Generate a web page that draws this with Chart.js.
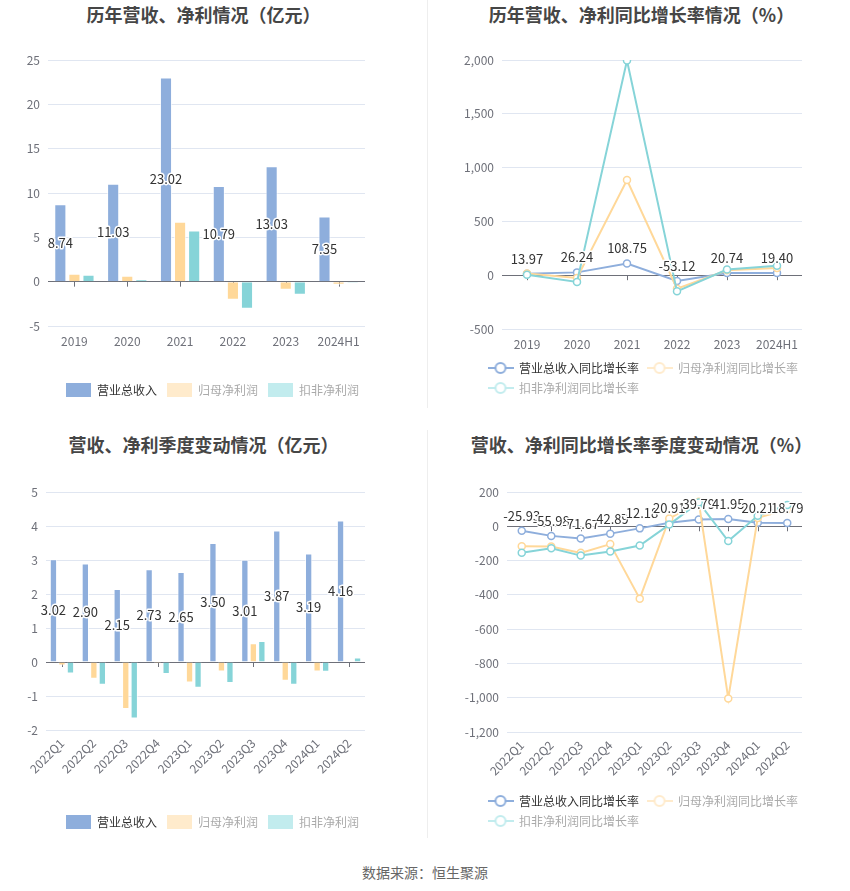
<!DOCTYPE html>
<html>
<head>
<meta charset="utf-8">
<script src="https://cdn.jsdelivr.net/npm/chart.js@4.4.1/dist/chart.umd.min.js"></script>
<style>
body { margin: 0; background: #fff; width: 850px; height: 891px; position: relative; overflow: hidden; font-family: "Noto Sans CJK SC", sans-serif; }
.title { position: absolute; width: 425px; text-align: center; font-size: 18px; font-weight: bold; color: #464646; line-height: 20px; }
.box { position: absolute; width: 425px; height: 380px; }
.vline { position: absolute; left: 427px; width: 1px; background: #eeeeee; }
#src { position: absolute; top: 863px; left: 0; width: 850px; text-align: center; font-size: 14px; color: #666; line-height: 18px; }
</style>
</head>
<body>
<div class="vline" style="top:0;height:408px"></div>
<div class="vline" style="top:430px;height:408px"></div>

<div class="title" style="left:-9px;top:4px">历年营收、净利情况（亿元）</div>
<div class="title" style="left:429px;top:4px">历年营收、净利同比增长率情况（%）</div>
<div class="title" style="left:-9px;top:434px">营收、净利季度变动情况（亿元）</div>
<div class="title" style="left:429px;top:434px">营收、净利同比增长率季度变动情况（%）</div>

<div class="box" style="left:0;top:40px"><canvas id="c1" width="425" height="380"></canvas></div>
<div class="box" style="left:425px;top:40px"><canvas id="c2" width="425" height="380"></canvas></div>
<div class="box" style="left:0;top:470px"><canvas id="c3" width="425" height="380"></canvas></div>
<div class="box" style="left:425px;top:470px"><canvas id="c4" width="425" height="380"></canvas></div>

<div id="src">数据来源：恒生聚源</div>

<script>
// data
const yearLabels = ["2019", "2020", "2021", "2022", "2023", "2024H1"];
const yearRevenue = [8.74, 11.03, 23.02, 10.79, 13.03, 7.35];
const yearNetProfit = [0.9, 0.68, 6.76, -2.03, -0.9, -0.34];
const yearDeductedProfit = [0.79, 0.26, 5.78, -3.05, -1.47, -0.15];

const yearRevenueGrowth = [13.97, 26.24, 108.75, -53.12, 20.74, 19.40];
const yearNetProfitGrowth = [15, -25, 884, -125, 45, 68];
const yearDeductedGrowth = [5, -63, 1995, -150, 53, 87];

const quarterLabels = ["2022Q1", "2022Q2", "2022Q3", "2022Q4", "2023Q1", "2023Q2", "2023Q3", "2023Q4", "2024Q1", "2024Q2"];
const quarterRevenue = [3.02, 2.90, 2.15, 2.73, 2.65, 3.50, 3.01, 3.87, 3.19, 4.16];
const quarterNetProfit = [-0.1, -0.49, -1.38, -0.04, -0.6, -0.28, 0.55, -0.55, -0.28, 0.01];
const quarterDeductedProfit = [-0.34, -0.67, -1.66, -0.35, -0.76, -0.62, 0.62, -0.67, -0.29, 0.13];

const quarterRevenueGrowth = [-25.93, -55.98, -71.67, -42.89, -12.18, 20.91, 39.79, 41.95, 20.21, 18.79];
const quarterNetProfitGrowth = [-116, -118, -155, -104, -422, 45, 143, -1004, 49, 98];
const quarterDeductedGrowth = [-155, -128, -171, -147, -112, 10, 139, -86, 61, 124];

const barNames = ["营业总收入", "归母净利润", "扣非净利润"];
const lineNames = ["营业总收入同比增长率", "归母净利润同比增长率", "扣非净利润同比增长率"];

const colors = ["#8EAEDC", "#FFD899", "#86D4D8"];
const fadedColors = ["#8EAEDC", "#FFEBCC", "#C2ECEE"];
const legendText = ["#333333", "#aaaaaa", "#aaaaaa"];

Chart.defaults.font.family = '"Noto Sans CJK SC", "Noto Sans", sans-serif';
Chart.defaults.font.size = 12;
Chart.defaults.color = "#6E7079";

// line + hollow circle legend icon
function lineIcon(color) {
    const c = document.createElement("canvas");
    c.width = 26;
    c.height = 14;
    const g = c.getContext("2d");
    g.strokeStyle = color;
    g.lineWidth = 2;
    g.beginPath();
    g.moveTo(0, 7);
    g.lineTo(26, 7);
    g.stroke();
    g.fillStyle = "#fff";
    g.beginPath();
    g.arc(13, 7, 5, 0, Math.PI * 2);
    g.fill();
    g.stroke();
    return c;
}

// value labels for the first series
const valueLabels = {
    id: "valueLabels",
    afterDatasetsDraw(chart) {
        const meta = chart.getDatasetMeta(0);
        const values = chart.data.datasets[0].data;
        const ctx = chart.ctx;
        ctx.save();
        ctx.font = '13px "Noto Sans CJK SC", sans-serif';
        ctx.textAlign = "center";
        ctx.textBaseline = "middle";
        ctx.lineJoin = "round";
        ctx.lineWidth = 3;
        ctx.strokeStyle = "#fff";
        ctx.fillStyle = "#333";
        meta.data.forEach((el, i) => {
            const txt = values[i].toFixed(2);
            const y = meta.type === "bar" ? (el.y + el.base) / 2 : el.y - 15;
            ctx.strokeText(txt, el.x, y);
            ctx.fillText(txt, el.x, y);
        });
        ctx.restore();
    }
};

// small ticks under the zero line
const zeroTicks = {
    id: "zeroTicks",
    beforeDatasetsDraw(chart) {
        const xs = chart.scales.x;
        const y0 = chart.scales.y.getPixelForValue(0);
        const ctx = chart.ctx;
        ctx.save();
        ctx.strokeStyle = "#6E7079";
        ctx.lineWidth = 1;
        chart.data.labels.forEach((l, i) => {
            const x = Math.round(xs.getPixelForValue(i)) + 0.5;
            ctx.beginPath();
            ctx.moveTo(x, y0);
            ctx.lineTo(x, y0 + 5);
            ctx.stroke();
        });
        ctx.restore();
    }
};

// line legends: rows start at the same left edge
const legendShift = {
    id: "legendShift",
    afterLayout(chart) {
        if (chart.config.type === "line") chart.legend.left = 55;
    }
};

function legendOptions(isLine, padding) {
    return {
        position: "bottom",
        align: isLine ? "start" : "center",
        onClick: () => {},
        labels: {
            padding: padding,
            boxWidth: 25,
            boxHeight: 14,
            useBorderRadius: true,
            borderRadius: 3,
            usePointStyle: isLine,
            pointStyleWidth: isLine ? 25 : undefined,
            font: { size: 12 },
            generateLabels(chart) {
                return chart.data.datasets.map((ds, i) => ({
                    text: ds.label,
                    datasetIndex: i,
                    fillStyle: fadedColors[i],
                    strokeStyle: fadedColors[i],
                    lineWidth: 0,
                    fontColor: legendText[i],
                    pointStyle: isLine ? lineIcon(i === 0 ? colors[0] : fadedColors[i]) : undefined,
                    hidden: false
                }));
            }
        }
    };
}

function scalesFor(cfg) {
    return {
        x: {
            offset: true,
            grid: { display: false, drawTicks: false },
            border: { display: false },
            ticks: {
                padding: cfg.xPad || 8,
                autoSkip: false,
                maxRotation: cfg.rotate || 0,
                minRotation: cfg.rotate || 0,
                color: "#6E7079"
            },
            afterFit: s => { s.height = cfg.xHeight; }
        },
        y: {
            min: cfg.min,
            max: cfg.max,
            ticks: { stepSize: cfg.step, padding: 8, color: "#6E7079" },
            grid: {
                drawTicks: false,
                color: c => (c.tick && c.tick.value === 0 ? "#6E7079" : "#E0E6F1")
            },
            border: { display: false },
            afterFit: s => { s.width = cfg.left; }
        },
        yr: {
            position: "right",
            grid: { display: false },
            border: { display: false },
            ticks: { display: false },
            afterFit: s => { s.width = cfg.right; }
        }
    };
}

function barSets(a, b, c) {
    return [a, b, c].map((d, i) => ({
        label: barNames[i],
        data: d,
        backgroundColor: colors[i],
        borderColor: "rgba(255,255,255,0.7)",
        borderWidth: 1,
        categoryPercentage: 0.8,
        barPercentage: 0.86
    }));
}

function lineSets(a, b, c) {
    return [a, b, c].map((d, i) => ({
        label: lineNames[i],
        data: d,
        borderColor: colors[i],
        backgroundColor: colors[i],
        borderWidth: 2,
        pointRadius: 3.5,
        pointBorderWidth: 1.5,
        pointBackgroundColor: "#fff",
        pointBorderColor: colors[i],
        tension: 0,
        order: 3 - i
    }));
}

function baseOptions(cfg, isLine, legendPad) {
    return {
        responsive: false,
        animation: false,
        layout: { padding: { top: cfg.top, bottom: cfg.bottom, left: 0, right: 0 } },
        plugins: {
            legend: legendOptions(isLine, legendPad),
            tooltip: { enabled: false }
        },
        scales: scalesFor(cfg)
    };
}

new Chart(document.getElementById("c1"), {
    type: "bar",
    data: { labels: yearLabels, datasets: barSets(yearRevenue, yearNetProfit, yearDeductedProfit) },
    options: baseOptions({ min: -5, max: 25, step: 5, left: 48, right: 60, top: 20, bottom: 13, xHeight: 47 }, false, 10),
    plugins: [zeroTicks, valueLabels]
});

new Chart(document.getElementById("c2"), {
    type: "line",
    data: { labels: yearLabels, datasets: lineSets(yearRevenueGrowth, yearNetProfitGrowth, yearDeductedGrowth) },
    options: baseOptions({ min: -500, max: 2000, step: 500, left: 77, right: 48, top: 20, bottom: 16, xHeight: 25 }, true, 8),
    plugins: [zeroTicks, valueLabels, legendShift]
});

new Chart(document.getElementById("c3"), {
    type: "bar",
    data: { labels: quarterLabels, datasets: barSets(quarterRevenue, quarterNetProfit, quarterDeductedProfit) },
    options: baseOptions({ min: -2, max: 5, step: 1, left: 46, right: 60, top: 22, bottom: 11, xHeight: 75, rotate: 45, xPad: 6 }, false, 10),
    plugins: [zeroTicks, valueLabels]
});

new Chart(document.getElementById("c4"), {
    type: "line",
    data: { labels: quarterLabels, datasets: lineSets(quarterRevenueGrowth, quarterNetProfitGrowth, quarterDeductedGrowth) },
    options: baseOptions({ min: -1200, max: 200, step: 200, left: 82, right: 48, top: 22, bottom: 13, xHeight: 55, rotate: 45, xPad: 6 }, true, 8),
    plugins: [zeroTicks, valueLabels, legendShift]
});
</script>
</body>
</html>
